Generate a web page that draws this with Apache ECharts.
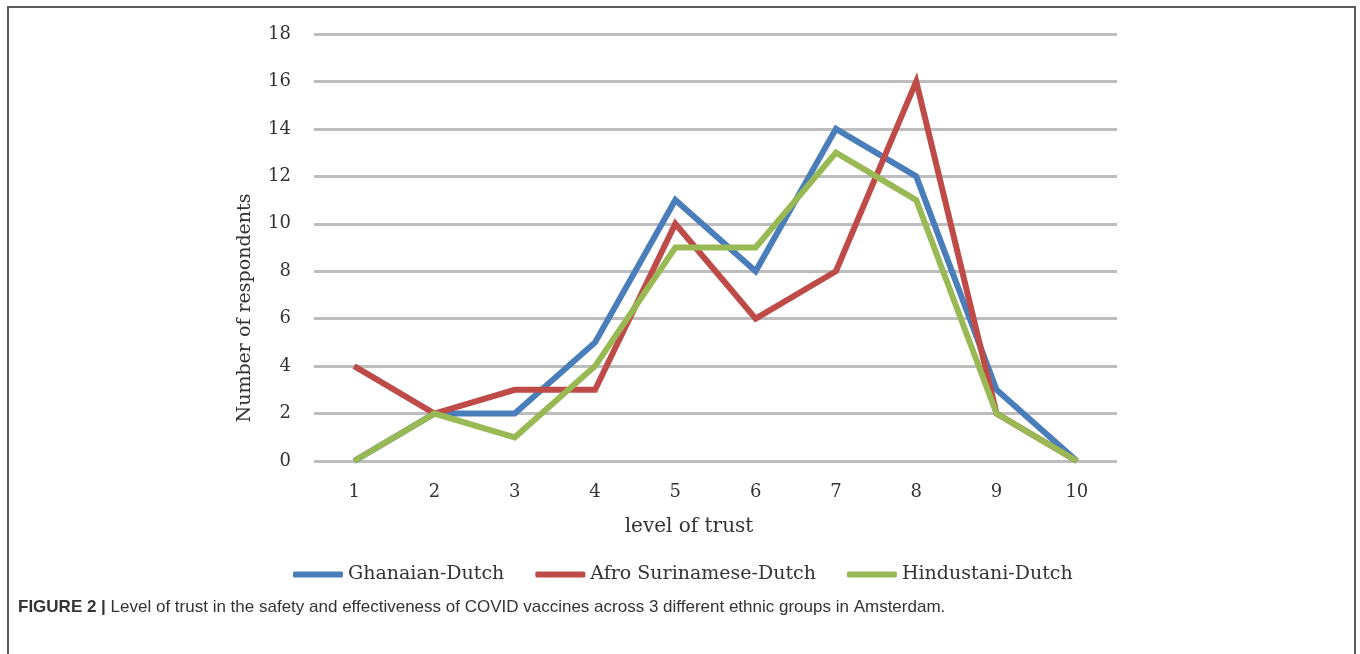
<!DOCTYPE html>
<html>
<head>
<meta charset="utf-8">
<script src="https://cdn.jsdelivr.net/npm/echarts@6/dist/echarts.min.js"></script>
<style>
  html, body { margin: 0; padding: 0; background: #fff; }
  #chart { width: 1360px; height: 654px; }
</style>
</head>
<body>
<div id="chart"></div>
<script>
// level of trust 1..10
const trustLevels = ['1', '2', '3', '4', '5', '6', '7', '8', '9', '10'];
const seriesNames = ['Ghanaian-Dutch', 'Afro Surinamese-Dutch', 'Hindustani-Dutch'];
const ghanaianData = [0, 2, 2, 5, 11, 8, 14, 12, 3, 0];
const afroSurinameseData = [4, 2, 3, 3, 10, 6, 8, 16, 2, 0];
const hindustaniData = [0, 2, 1, 4, 9, 9, 13, 11, 2, 0];
const seriesColors = ['#4a7ebb', '#be4b48', '#98b954'];

const chart = echarts.init(document.getElementById('chart'));
const serifFont = '"DejaVu Serif", "Liberation Serif", serif';
const sansFont = '"Liberation Sans", Arial, sans-serif';
const textColor = '#333';

const makeLine = (name, data, color) => ({
  name: name,
  type: 'line',
  data: data,
  symbol: 'none',
  lineStyle: { color: color, width: 6, join: 'miter' },
  itemStyle: { color: color }
});

const option = {
  animation: false,
  backgroundColor: '#fff',
  grid: { left: 314, right: 243, top: 34, bottom: 193 },
  legend: {
    data: seriesNames,
    top: 565,
    left: 293,
    padding: 0,
    itemWidth: 50,
    itemHeight: 6,
    itemGap: 31,
    icon: 'roundRect',
    textStyle: { fontFamily: serifFont, fontSize: 19, color: textColor }
  },
  xAxis: {
    type: 'category',
    data: trustLevels,
    boundaryGap: true,
    axisLine: { show: false },
    axisTick: { show: false },
    axisLabel: { fontFamily: serifFont, fontSize: 18, color: textColor, margin: 22 }
  },
  yAxis: {
    type: 'value',
    min: 0,
    max: 18,
    interval: 2,
    axisLine: { show: false },
    axisTick: { show: false },
    axisLabel: { fontFamily: serifFont, fontSize: 18, color: textColor, margin: 23 },
    splitLine: { lineStyle: { color: '#bdbdbd', width: 3 } }
  },
  series: [
    makeLine(seriesNames[0], ghanaianData, seriesColors[0]),
    makeLine(seriesNames[1], afroSurinameseData, seriesColors[1]),
    makeLine(seriesNames[2], hindustaniData, seriesColors[2])
  ],
  graphic: [
    {
      type: 'rect',
      shape: { x: 8, y: 7, width: 1347, height: 700 },
      style: { fill: 'none', stroke: '#5a5a5a', lineWidth: 2 }
    },
    // y axis title
    {
      type: 'text',
      x: 245,
      y: 308,
      rotation: Math.PI / 2,
      style: {
        text: 'Number of respondents',
        font: '19px ' + serifFont,
        fill: textColor,
        align: 'center',
        verticalAlign: 'middle'
      }
    },
    // x axis title
    {
      type: 'text',
      x: 689,
      y: 527,
      style: {
        text: 'level of trust',
        font: '20px ' + serifFont,
        fill: textColor,
        align: 'center',
        verticalAlign: 'middle'
      }
    },
    // caption
    {
      type: 'text',
      x: 18,
      y: 607,
      style: {
        rich: {
          b: { fontFamily: sansFont, fontSize: 17, fontWeight: 'bold', fill: '#333' },
          n: { fontFamily: sansFont, fontSize: 17, fill: '#333' }
        },
        text: '{b|FIGURE 2 |}{n| Level of trust in the safety and effectiveness of COVID vaccines across 3 different ethnic groups in Amsterdam.}',
        verticalAlign: 'middle'
      }
    }
  ]
};

chart.setOption(option);
</script>
</body>
</html>
